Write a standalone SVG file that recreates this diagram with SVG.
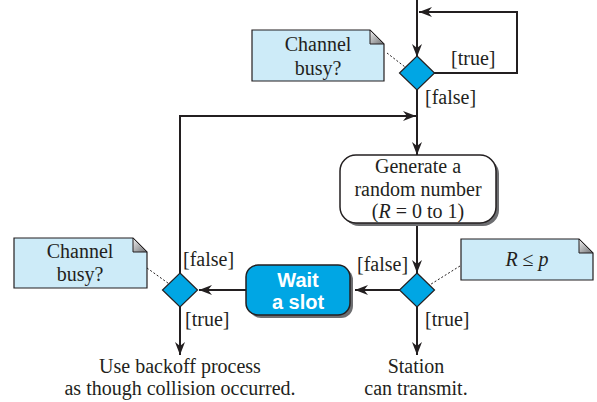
<svg xmlns="http://www.w3.org/2000/svg" width="597" height="402" viewBox="0 0 597 402">
<defs>
<marker id="arr" markerUnits="userSpaceOnUse" markerWidth="14" markerHeight="12" viewBox="0 0 14 12" refX="13" refY="6" orient="auto">
<path d="M0,1 L13,6 L0,11 L4,6 Z" fill="#231f20"/>
</marker>
<linearGradient id="fold" x1="0" y1="0" x2="1" y2="1">
<stop offset="0" stop-color="#f2f2f2"/>
<stop offset="1" stop-color="#6d6e71"/>
</linearGradient>
</defs>
<style>
.ln{fill:none;stroke:#231f20;stroke-width:2}
.dot{fill:none;stroke:#231f20;stroke-width:1;stroke-dasharray:2,2}
.note{fill:#cdebf8;stroke:#231f20;stroke-width:1.2}
.foldp{fill:url(#fold);stroke:#231f20;stroke-width:1}
.dia{fill:#00a6e4;stroke:#231f20;stroke-width:1.2}
.t{font-family:"Liberation Serif","Times New Roman",serif;font-size:20px;fill:#231f20}
.c{text-anchor:middle}
.w{font-family:"Liberation Sans",Arial,sans-serif;font-size:20px;font-weight:bold;fill:#fff;text-anchor:middle}
</style>
<rect width="597" height="402" fill="#fff"/>

<g id="connectors">
<path class="ln" d="M417,0 V57" marker-end="url(#arr)"/>
<path class="ln" d="M434,73 H517 V12 H419" marker-end="url(#arr)"/>
<path class="ln" d="M417,90 V155" marker-end="url(#arr)"/>
<path class="ln" d="M180,273 V116 H416" marker-end="url(#arr)"/>
<path class="ln" d="M417,225 V273" marker-end="url(#arr)"/>
<path class="ln" d="M400,290 H355" marker-end="url(#arr)"/>
<path class="ln" d="M246,290 H199" marker-end="url(#arr)"/>
<path class="ln" d="M180,307 V355" marker-end="url(#arr)"/>
<path class="ln" d="M417,307 V355" marker-end="url(#arr)"/>
<path class="dot" d="M387,53 L418,77"/>
<path class="dot" d="M147,268 L179,291"/>
<path class="dot" d="M460,266 L420,291"/>
</g>

<g id="note-top">
<path class="note" d="M252,30 H370 L384,44 V81 H252 Z"/>
<path class="foldp" d="M370,30 L384,44 H370 Z"/>
<text class="t c" x="318" y="51">Channel</text>
<text class="t c" x="318" y="75">busy?</text>
</g>

<g id="decision-top">
<path class="dia" d="M417,56 L434.5,73 L417,90 L399.5,73 Z"/>
</g>

<g id="generate">
<rect x="343" y="158" width="156" height="68" rx="16" fill="#6d6e71"/>
<rect x="340" y="155" width="156" height="68" rx="16" fill="#fff" stroke="#231f20" stroke-width="1.5"/>
<text class="t c" x="418" y="173">Generate a</text>
<text class="t c" x="418" y="196">random number</text>
<text class="t c" x="418" y="218">(<tspan font-style="italic">R</tspan> = 0 to 1)</text>
</g>

<g id="note-r">
<path class="note" d="M461,239 H579 L593,253 V280 H461 Z"/>
<path class="foldp" d="M579,239 L593,253 H579 Z"/>
<text class="t c" x="527" y="266"><tspan font-style="italic">R</tspan> ≤ <tspan font-style="italic">p</tspan></text>
</g>

<g id="decision-r">
<path class="dia" d="M417,273 L434.5,290 L417,307 L399.5,290 Z"/>
</g>

<g id="wait">
<rect x="249" y="268" width="104" height="50" rx="12" fill="#6d6e71"/>
<rect x="246" y="265" width="104" height="50" rx="12" fill="#00a6e4" stroke="#231f20" stroke-width="1.5"/>
<text class="w" x="298" y="287">Wait</text>
<text class="w" x="298" y="309">a slot</text>
</g>

<g id="note-left">
<path class="note" d="M14,238 H133 L147,252 V288 H14 Z"/>
<path class="foldp" d="M133,238 L147,252 H133 Z"/>
<text class="t c" x="80" y="258">Channel</text>
<text class="t c" x="80" y="281">busy?</text>
</g>

<g id="decision-left">
<path class="dia" d="M180,273 L197.5,290 L180,307 L162.5,290 Z"/>
</g>

<g id="labels">
<text class="t" x="451" y="65">[true]</text>
<text class="t" x="425" y="104">[false]</text>
<text class="t" x="183" y="266">[false]</text>
<text class="t" x="357" y="271">[false]</text>
<text class="t" x="185" y="326">[true]</text>
<text class="t" x="425" y="326">[true]</text>
</g>

<g id="end-left">
<text class="t c" x="180" y="373">Use backoff process</text>
<text class="t c" x="180" y="395">as though collision occurred.</text>
</g>

<g id="end-right">
<text class="t c" x="416" y="373">Station</text>
<text class="t c" x="416" y="395">can transmit.</text>
</g>
</svg>
